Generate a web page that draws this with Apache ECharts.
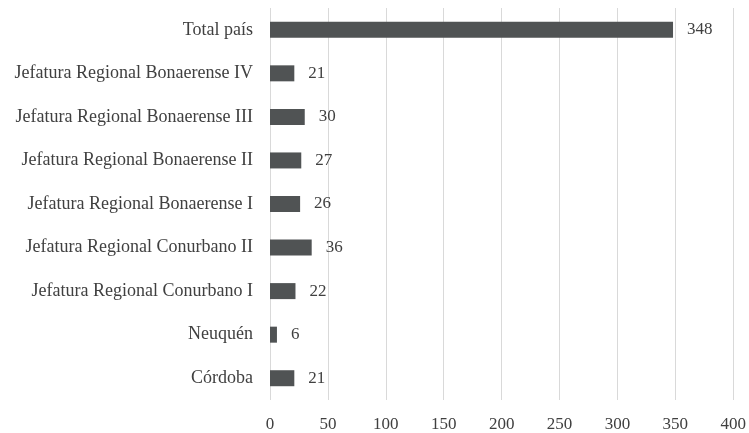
<!DOCTYPE html>
<html>
<head>
<meta charset="utf-8">
<script src="https://cdn.jsdelivr.net/npm/echarts@6/dist/echarts.min.js"></script>
<style>
  html, body { margin: 0; padding: 0; background: #fff; }
  #chart { width: 749px; height: 433px; }
</style>
</head>
<body>
<div id="chart"></div>
<script>
// categories listed bottom to top (category axis starts at the bottom)
const categories = [
  'Córdoba',
  'Neuquén',
  'Jefatura Regional Conurbano I',
  'Jefatura Regional Conurbano II',
  'Jefatura Regional Bonaerense I',
  'Jefatura Regional Bonaerense II',
  'Jefatura Regional Bonaerense III',
  'Jefatura Regional Bonaerense IV',
  'Total país'
]
const values = [21, 6, 22, 36, 26, 27, 30, 21, 348]
const xTicks = [0, 50, 100, 150, 200, 250, 300, 350, 400]

const font = '"Liberation Serif", "DejaVu Serif", serif'
const textColor = '#404040'

const ec = echarts.init(document.getElementById('chart'))
ec.setOption({
  animation: false,
  grid: { left: 270, right: 14, top: 8, bottom: 33, containLabel: false },
  xAxis: {
    type: 'value',
    min: xTicks[0],
    max: xTicks[xTicks.length - 1],
    interval: 50,
    axisLine: { show: false },
    axisTick: { show: false },
    splitLine: { show: true, lineStyle: { color: '#d9d9d9', width: 1 } },
    axisLabel: { color: textColor, fontFamily: font, fontSize: 17, margin: 16 }
  },
  yAxis: {
    type: 'category',
    data: categories,
    axisLine: { show: false },
    axisTick: { show: false },
    axisLabel: { color: textColor, fontFamily: font, fontSize: 18, margin: 17 }
  },
  series: [{
    type: 'bar',
    data: values,
    barWidth: 16,
    itemStyle: { color: '#505354' },
    label: {
      show: true,
      position: 'right',
      distance: 14,
      color: textColor,
      fontFamily: font,
      fontSize: 17
    }
  }]
})
</script>
</body>
</html>
